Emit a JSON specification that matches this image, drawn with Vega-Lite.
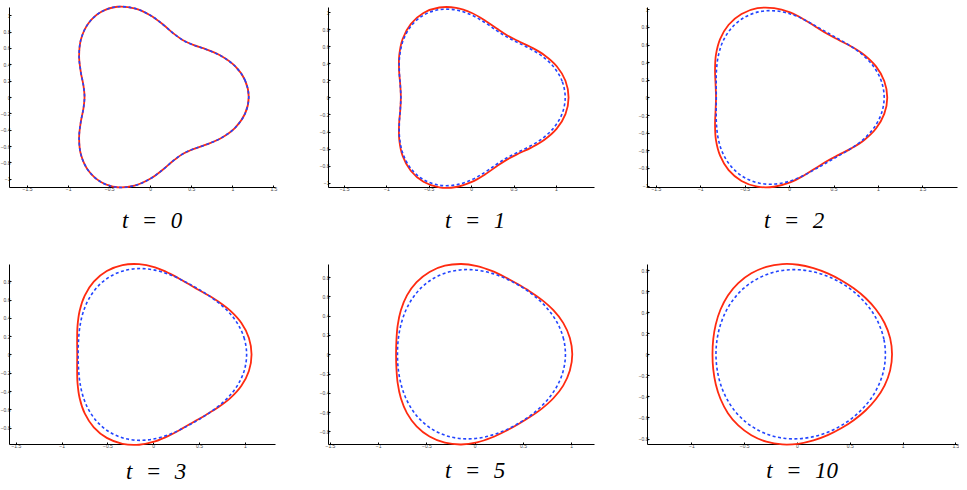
{
  "$schema": "https://vega.github.io/schema/vega-lite/v6.json",
  "padding": {"left": 0, "top": 2, "right": 0, "bottom": 0},
  "background": "white",
  "config": {
    "view": {"stroke": null},
    "axis": {"grid": false, "title": null, "domainColor": "black", "domainWidth": 1, "tickColor": "black", "tickWidth": 1, "tickSize": -2, "labelFontSize": 5, "labelColor": "#444444", "labelFont": "Liberation Sans", "labelPadding": 1, "labelOverlap": false, "labelFlush": false, "format": "~g"},
    "axisX": {"labelAngle": 0},
    "title": {"orient": "bottom", "font": "'Liberation Serif', 'Times New Roman', 'DejaVu Serif', serif", "fontSize": 23, "fontStyle": "italic", "fontWeight": "normal", "anchor": "middle", "offset": 14, "color": "black"}
  },
  "data": {"values": [
    {"c":"0","i":0,"x":1.2,"y":0},{"c":"0","i":1,"x":1.155,"y":0.204},{"c":"0","i":2,"x":1.034,"y":0.376},{"c":"0","i":3,"x":0.866,"y":0.5},{"c":"0","i":4,"x":0.689,"y":0.579},{"c":"0","i":5,"x":0.532,"y":0.633},{"c":"0","i":6,"x":0.4,"y":0.693},{"c":"0","i":7,"x":0.283,"y":0.777},{"c":"0","i":8,"x":0.156,"y":0.886},{"c":"0","i":9,"x":0,"y":1},{"c":"0","i":10,"x":-0.191,"y":1.083},{"c":"0","i":11,"x":-0.401,"y":1.103},{"c":"0","i":12,"x":-0.6,"y":1.039},{"c":"0","i":13,"x":-0.754,"y":0.899},{"c":"0","i":14,"x":-0.843,"y":0.707},{"c":"0","i":15,"x":-0.866,"y":0.5},{"c":"0","i":16,"x":-0.846,"y":0.308},{"c":"0","i":17,"x":-0.814,"y":0.144},{"c":"0","i":18,"x":-0.8,"y":0},{"c":"0","i":19,"x":-0.814,"y":-0.144},{"c":"0","i":20,"x":-0.846,"y":-0.308},{"c":"0","i":21,"x":-0.866,"y":-0.5},{"c":"0","i":22,"x":-0.843,"y":-0.707},{"c":"0","i":23,"x":-0.754,"y":-0.899},{"c":"0","i":24,"x":-0.6,"y":-1.039},{"c":"0","i":25,"x":-0.401,"y":-1.103},{"c":"0","i":26,"x":-0.191,"y":-1.083},{"c":"0","i":27,"x":0,"y":-1},{"c":"0","i":28,"x":0.156,"y":-0.886},{"c":"0","i":29,"x":0.283,"y":-0.777},{"c":"0","i":30,"x":0.4,"y":-0.693},{"c":"0","i":31,"x":0.532,"y":-0.633},{"c":"0","i":32,"x":0.689,"y":-0.579},{"c":"0","i":33,"x":0.866,"y":-0.5},{"c":"0","i":34,"x":1.034,"y":-0.376},{"c":"0","i":35,"x":1.155,"y":-0.204},

    {"c":"1r","i":0,"x":1.15,"y":0},{"c":"1r","i":1,"x":1.113,"y":0.195},{"c":"1r","i":2,"x":1.01,"y":0.365},{"c":"1r","i":3,"x":0.865,"y":0.495},{"c":"1r","i":4,"x":0.708,"y":0.588},{"c":"1r","i":5,"x":0.56,"y":0.658},{"c":"1r","i":6,"x":0.427,"y":0.726},{"c":"1r","i":7,"x":0.302,"y":0.807},{"c":"1r","i":8,"x":0.167,"y":0.9},{"c":"1r","i":9,"x":0.008,"y":0.99},{"c":"1r","i":10,"x":-0.177,"y":1.05},{"c":"1r","i":11,"x":-0.376,"y":1.054},{"c":"1r","i":12,"x":-0.563,"y":0.989},{"c":"1r","i":13,"x":-0.713,"y":0.859},{"c":"1r","i":14,"x":-0.809,"y":0.685},{"c":"1r","i":15,"x":-0.849,"y":0.495},{"c":"1r","i":16,"x":-0.851,"y":0.313},{"c":"1r","i":17,"x":-0.837,"y":0.149},{"c":"1r","i":18,"x":-0.83,"y":0},{"c":"1r","i":19,"x":-0.837,"y":-0.149},{"c":"1r","i":20,"x":-0.851,"y":-0.313},{"c":"1r","i":21,"x":-0.849,"y":-0.495},{"c":"1r","i":22,"x":-0.809,"y":-0.685},{"c":"1r","i":23,"x":-0.713,"y":-0.859},{"c":"1r","i":24,"x":-0.563,"y":-0.989},{"c":"1r","i":25,"x":-0.376,"y":-1.054},{"c":"1r","i":26,"x":-0.177,"y":-1.05},{"c":"1r","i":27,"x":0.008,"y":-0.99},{"c":"1r","i":28,"x":0.167,"y":-0.9},{"c":"1r","i":29,"x":0.302,"y":-0.807},{"c":"1r","i":30,"x":0.427,"y":-0.726},{"c":"1r","i":31,"x":0.56,"y":-0.658},{"c":"1r","i":32,"x":0.708,"y":-0.588},{"c":"1r","i":33,"x":0.865,"y":-0.495},{"c":"1r","i":34,"x":1.01,"y":-0.365},{"c":"1r","i":35,"x":1.113,"y":-0.195},

    {"c":"1b","i":0,"x":1.11,"y":0},{"c":"1b","i":1,"x":1.074,"y":0.19},{"c":"1b","i":2,"x":0.975,"y":0.356},{"c":"1b","i":3,"x":0.836,"y":0.485},{"c":"1b","i":4,"x":0.684,"y":0.577},{"c":"1b","i":5,"x":0.539,"y":0.648},{"c":"1b","i":6,"x":0.409,"y":0.715},{"c":"1b","i":7,"x":0.285,"y":0.794},{"c":"1b","i":8,"x":0.152,"y":0.884},{"c":"1b","i":9,"x":-0.004,"y":0.97},{"c":"1b","i":10,"x":-0.185,"y":1.026},{"c":"1b","i":11,"x":-0.378,"y":1.029},{"c":"1b","i":12,"x":-0.561,"y":0.965},{"c":"1b","i":13,"x":-0.708,"y":0.839},{"c":"1b","i":14,"x":-0.802,"y":0.67},{"c":"1b","i":15,"x":-0.844,"y":0.485},{"c":"1b","i":16,"x":-0.848,"y":0.307},{"c":"1b","i":17,"x":-0.837,"y":0.147},{"c":"1b","i":18,"x":-0.83,"y":0},{"c":"1b","i":19,"x":-0.837,"y":-0.147},{"c":"1b","i":20,"x":-0.848,"y":-0.307},{"c":"1b","i":21,"x":-0.844,"y":-0.485},{"c":"1b","i":22,"x":-0.802,"y":-0.67},{"c":"1b","i":23,"x":-0.708,"y":-0.839},{"c":"1b","i":24,"x":-0.561,"y":-0.965},{"c":"1b","i":25,"x":-0.378,"y":-1.029},{"c":"1b","i":26,"x":-0.185,"y":-1.026},{"c":"1b","i":27,"x":-0.004,"y":-0.97},{"c":"1b","i":28,"x":0.152,"y":-0.884},{"c":"1b","i":29,"x":0.285,"y":-0.794},{"c":"1b","i":30,"x":0.409,"y":-0.715},{"c":"1b","i":31,"x":0.539,"y":-0.648},{"c":"1b","i":32,"x":0.684,"y":-0.577},{"c":"1b","i":33,"x":0.836,"y":-0.485},{"c":"1b","i":34,"x":0.975,"y":-0.356},{"c":"1b","i":35,"x":1.074,"y":-0.19},

    {"c":"2r","i":0,"x":1.105,"y":0},{"c":"2r","i":1,"x":1.071,"y":0.187},{"c":"2r","i":2,"x":0.978,"y":0.352},{"c":"2r","i":3,"x":0.846,"y":0.482},{"c":"2r","i":4,"x":0.7,"y":0.578},{"c":"2r","i":5,"x":0.558,"y":0.652},{"c":"2r","i":6,"x":0.428,"y":0.722},{"c":"2r","i":7,"x":0.302,"y":0.8},{"c":"2r","i":8,"x":0.167,"y":0.885},{"c":"2r","i":9,"x":0.011,"y":0.964},{"c":"2r","i":10,"x":-0.168,"y":1.013},{"c":"2r","i":11,"x":-0.357,"y":1.012},{"c":"2r","i":12,"x":-0.536,"y":0.947},{"c":"2r","i":13,"x":-0.681,"y":0.825},{"c":"2r","i":14,"x":-0.777,"y":0.661},{"c":"2r","i":15,"x":-0.824,"y":0.482},{"c":"2r","i":16,"x":-0.834,"y":0.308},{"c":"2r","i":17,"x":-0.828,"y":0.148},{"c":"2r","i":18,"x":-0.823,"y":0},{"c":"2r","i":19,"x":-0.828,"y":-0.148},{"c":"2r","i":20,"x":-0.834,"y":-0.308},{"c":"2r","i":21,"x":-0.824,"y":-0.482},{"c":"2r","i":22,"x":-0.777,"y":-0.661},{"c":"2r","i":23,"x":-0.681,"y":-0.825},{"c":"2r","i":24,"x":-0.536,"y":-0.947},{"c":"2r","i":25,"x":-0.357,"y":-1.012},{"c":"2r","i":26,"x":-0.168,"y":-1.013},{"c":"2r","i":27,"x":0.011,"y":-0.964},{"c":"2r","i":28,"x":0.167,"y":-0.885},{"c":"2r","i":29,"x":0.302,"y":-0.8},{"c":"2r","i":30,"x":0.428,"y":-0.722},{"c":"2r","i":31,"x":0.558,"y":-0.652},{"c":"2r","i":32,"x":0.7,"y":-0.578},{"c":"2r","i":33,"x":0.846,"y":-0.482},{"c":"2r","i":34,"x":0.978,"y":-0.352},{"c":"2r","i":35,"x":1.071,"y":-0.187},

    {"c":"2b","i":0,"x":1.07,"y":0},{"c":"2b","i":1,"x":1.04,"y":0.18},{"c":"2b","i":2,"x":0.958,"y":0.341},{"c":"2b","i":3,"x":0.839,"y":0.473},{"c":"2b","i":4,"x":0.705,"y":0.574},{"c":"2b","i":5,"x":0.571,"y":0.655},{"c":"2b","i":6,"x":0.442,"y":0.728},{"c":"2b","i":7,"x":0.313,"y":0.803},{"c":"2b","i":8,"x":0.176,"y":0.879},{"c":"2b","i":9,"x":0.021,"y":0.945},{"c":"2b","i":10,"x":-0.152,"y":0.982},{"c":"2b","i":11,"x":-0.333,"y":0.973},{"c":"2b","i":12,"x":-0.504,"y":0.908},{"c":"2b","i":13,"x":-0.644,"y":0.793},{"c":"2b","i":14,"x":-0.743,"y":0.641},{"c":"2b","i":15,"x":-0.797,"y":0.473},{"c":"2b","i":16,"x":-0.818,"y":0.305},{"c":"2b","i":17,"x":-0.821,"y":0.148},{"c":"2b","i":18,"x":-0.82,"y":0},{"c":"2b","i":19,"x":-0.821,"y":-0.148},{"c":"2b","i":20,"x":-0.818,"y":-0.305},{"c":"2b","i":21,"x":-0.797,"y":-0.473},{"c":"2b","i":22,"x":-0.743,"y":-0.641},{"c":"2b","i":23,"x":-0.644,"y":-0.793},{"c":"2b","i":24,"x":-0.504,"y":-0.908},{"c":"2b","i":25,"x":-0.333,"y":-0.973},{"c":"2b","i":26,"x":-0.152,"y":-0.982},{"c":"2b","i":27,"x":0.021,"y":-0.945},{"c":"2b","i":28,"x":0.176,"y":-0.879},{"c":"2b","i":29,"x":0.313,"y":-0.803},{"c":"2b","i":30,"x":0.442,"y":-0.728},{"c":"2b","i":31,"x":0.571,"y":-0.655},{"c":"2b","i":32,"x":0.705,"y":-0.574},{"c":"2b","i":33,"x":0.839,"y":-0.473},{"c":"2b","i":34,"x":0.958,"y":-0.341},{"c":"2b","i":35,"x":1.04,"y":-0.18},

    {"c":"3r","i":0,"x":1.074,"y":0},{"c":"3r","i":1,"x":1.045,"y":0.181},{"c":"3r","i":2,"x":0.963,"y":0.343},{"c":"3r","i":3,"x":0.844,"y":0.476},{"c":"3r","i":4,"x":0.71,"y":0.579},{"c":"3r","i":5,"x":0.575,"y":0.662},{"c":"3r","i":6,"x":0.445,"y":0.736},{"c":"3r","i":7,"x":0.315,"y":0.812},{"c":"3r","i":8,"x":0.176,"y":0.887},{"c":"3r","i":9,"x":0.02,"y":0.952},{"c":"3r","i":10,"x":-0.154,"y":0.988},{"c":"3r","i":11,"x":-0.336,"y":0.978},{"c":"3r","i":12,"x":-0.507,"y":0.913},{"c":"3r","i":13,"x":-0.649,"y":0.797},{"c":"3r","i":14,"x":-0.748,"y":0.645},{"c":"3r","i":15,"x":-0.804,"y":0.476},{"c":"3r","i":16,"x":-0.827,"y":0.308},{"c":"3r","i":17,"x":-0.831,"y":0.15},{"c":"3r","i":18,"x":-0.83,"y":0},{"c":"3r","i":19,"x":-0.831,"y":-0.15},{"c":"3r","i":20,"x":-0.827,"y":-0.308},{"c":"3r","i":21,"x":-0.804,"y":-0.476},{"c":"3r","i":22,"x":-0.748,"y":-0.645},{"c":"3r","i":23,"x":-0.649,"y":-0.797},{"c":"3r","i":24,"x":-0.507,"y":-0.913},{"c":"3r","i":25,"x":-0.336,"y":-0.978},{"c":"3r","i":26,"x":-0.154,"y":-0.988},{"c":"3r","i":27,"x":0.02,"y":-0.952},{"c":"3r","i":28,"x":0.176,"y":-0.887},{"c":"3r","i":29,"x":0.315,"y":-0.812},{"c":"3r","i":30,"x":0.445,"y":-0.736},{"c":"3r","i":31,"x":0.575,"y":-0.662},{"c":"3r","i":32,"x":0.71,"y":-0.579},{"c":"3r","i":33,"x":0.844,"y":-0.476},{"c":"3r","i":34,"x":0.963,"y":-0.343},{"c":"3r","i":35,"x":1.045,"y":-0.181},

    {"c":"3b","i":0,"x":1.02,"y":0},{"c":"3b","i":1,"x":0.996,"y":0.17},{"c":"3b","i":2,"x":0.928,"y":0.326},{"c":"3b","i":3,"x":0.828,"y":0.46},{"c":"3b","i":4,"x":0.709,"y":0.569},{"c":"3b","i":5,"x":0.584,"y":0.659},{"c":"3b","i":6,"x":0.457,"y":0.737},{"c":"3b","i":7,"x":0.325,"y":0.808},{"c":"3b","i":8,"x":0.185,"y":0.872},{"c":"3b","i":9,"x":0.031,"y":0.92},{"c":"3b","i":10,"x":-0.135,"y":0.94},{"c":"3b","i":11,"x":-0.304,"y":0.921},{"c":"3b","i":12,"x":-0.464,"y":0.857},{"c":"3b","i":13,"x":-0.599,"y":0.751},{"c":"3b","i":14,"x":-0.7,"y":0.614},{"c":"3b","i":15,"x":-0.766,"y":0.46},{"c":"3b","i":16,"x":-0.801,"y":0.303},{"c":"3b","i":17,"x":-0.816,"y":0.149},{"c":"3b","i":18,"x":-0.82,"y":0},{"c":"3b","i":19,"x":-0.816,"y":-0.149},{"c":"3b","i":20,"x":-0.801,"y":-0.303},{"c":"3b","i":21,"x":-0.766,"y":-0.46},{"c":"3b","i":22,"x":-0.7,"y":-0.614},{"c":"3b","i":23,"x":-0.599,"y":-0.751},{"c":"3b","i":24,"x":-0.464,"y":-0.857},{"c":"3b","i":25,"x":-0.304,"y":-0.921},{"c":"3b","i":26,"x":-0.135,"y":-0.94},{"c":"3b","i":27,"x":0.031,"y":-0.92},{"c":"3b","i":28,"x":0.185,"y":-0.872},{"c":"3b","i":29,"x":0.325,"y":-0.808},{"c":"3b","i":30,"x":0.457,"y":-0.737},{"c":"3b","i":31,"x":0.584,"y":-0.659},{"c":"3b","i":32,"x":0.709,"y":-0.569},{"c":"3b","i":33,"x":0.828,"y":-0.46},{"c":"3b","i":34,"x":0.928,"y":-0.326},{"c":"3b","i":35,"x":0.996,"y":-0.17},

    {"c":"5r","i":0,"x":1.011,"y":0},{"c":"5r","i":1,"x":0.986,"y":0.169},{"c":"5r","i":2,"x":0.917,"y":0.325},{"c":"5r","i":3,"x":0.815,"y":0.456},{"c":"5r","i":4,"x":0.696,"y":0.563},{"c":"5r","i":5,"x":0.571,"y":0.651},{"c":"5r","i":6,"x":0.445,"y":0.727},{"c":"5r","i":7,"x":0.316,"y":0.798},{"c":"5r","i":8,"x":0.177,"y":0.863},{"c":"5r","i":9,"x":0.025,"y":0.913},{"c":"5r","i":10,"x":-0.14,"y":0.935},{"c":"5r","i":11,"x":-0.309,"y":0.917},{"c":"5r","i":12,"x":-0.468,"y":0.853},{"c":"5r","i":13,"x":-0.602,"y":0.747},{"c":"5r","i":14,"x":-0.702,"y":0.61},{"c":"5r","i":15,"x":-0.765,"y":0.456},{"c":"5r","i":16,"x":-0.798,"y":0.3},{"c":"5r","i":17,"x":-0.811,"y":0.147},{"c":"5r","i":18,"x":-0.815,"y":0},{"c":"5r","i":19,"x":-0.811,"y":-0.147},{"c":"5r","i":20,"x":-0.798,"y":-0.3},{"c":"5r","i":21,"x":-0.765,"y":-0.456},{"c":"5r","i":22,"x":-0.702,"y":-0.61},{"c":"5r","i":23,"x":-0.602,"y":-0.747},{"c":"5r","i":24,"x":-0.468,"y":-0.853},{"c":"5r","i":25,"x":-0.309,"y":-0.917},{"c":"5r","i":26,"x":-0.14,"y":-0.935},{"c":"5r","i":27,"x":0.025,"y":-0.913},{"c":"5r","i":28,"x":0.177,"y":-0.863},{"c":"5r","i":29,"x":0.316,"y":-0.798},{"c":"5r","i":30,"x":0.445,"y":-0.727},{"c":"5r","i":31,"x":0.571,"y":-0.651},{"c":"5r","i":32,"x":0.696,"y":-0.563},{"c":"5r","i":33,"x":0.815,"y":-0.456},{"c":"5r","i":34,"x":0.917,"y":-0.325},{"c":"5r","i":35,"x":0.986,"y":-0.169},

    {"c":"5b","i":0,"x":0.94,"y":0},{"c":"5b","i":1,"x":0.921,"y":0.157},{"c":"5b","i":2,"x":0.867,"y":0.304},{"c":"5b","i":3,"x":0.784,"y":0.435},{"c":"5b","i":4,"x":0.683,"y":0.547},{"c":"5b","i":5,"x":0.569,"y":0.641},{"c":"5b","i":6,"x":0.447,"y":0.72},{"c":"5b","i":7,"x":0.317,"y":0.786},{"c":"5b","i":8,"x":0.179,"y":0.838},{"c":"5b","i":9,"x":0.031,"y":0.87},{"c":"5b","i":10,"x":-0.123,"y":0.876},{"c":"5b","i":11,"x":-0.278,"y":0.849},{"c":"5b","i":12,"x":-0.424,"y":0.787},{"c":"5b","i":13,"x":-0.55,"y":0.692},{"c":"5b","i":14,"x":-0.65,"y":0.572},{"c":"5b","i":15,"x":-0.722,"y":0.435},{"c":"5b","i":16,"x":-0.768,"y":0.291},{"c":"5b","i":17,"x":-0.793,"y":0.145},{"c":"5b","i":18,"x":-0.8,"y":0},{"c":"5b","i":19,"x":-0.793,"y":-0.145},{"c":"5b","i":20,"x":-0.768,"y":-0.291},{"c":"5b","i":21,"x":-0.722,"y":-0.435},{"c":"5b","i":22,"x":-0.65,"y":-0.572},{"c":"5b","i":23,"x":-0.55,"y":-0.692},{"c":"5b","i":24,"x":-0.424,"y":-0.787},{"c":"5b","i":25,"x":-0.278,"y":-0.849},{"c":"5b","i":26,"x":-0.123,"y":-0.876},{"c":"5b","i":27,"x":0.031,"y":-0.87},{"c":"5b","i":28,"x":0.179,"y":-0.838},{"c":"5b","i":29,"x":0.317,"y":-0.786},{"c":"5b","i":30,"x":0.447,"y":-0.72},{"c":"5b","i":31,"x":0.569,"y":-0.641},{"c":"5b","i":32,"x":0.683,"y":-0.547},{"c":"5b","i":33,"x":0.784,"y":-0.435},{"c":"5b","i":34,"x":0.867,"y":-0.304},{"c":"5b","i":35,"x":0.921,"y":-0.157},

    {"c":"10r","i":0,"x":0.9,"y":0},{"c":"10r","i":1,"x":0.882,"y":0.153},{"c":"10r","i":2,"x":0.829,"y":0.297},{"c":"10r","i":3,"x":0.748,"y":0.425},{"c":"10r","i":4,"x":0.649,"y":0.534},{"c":"10r","i":5,"x":0.537,"y":0.626},{"c":"10r","i":6,"x":0.418,"y":0.703},{"c":"10r","i":7,"x":0.291,"y":0.768},{"c":"10r","i":8,"x":0.156,"y":0.818},{"c":"10r","i":9,"x":0.012,"y":0.85},{"c":"10r","i":10,"x":-0.139,"y":0.856},{"c":"10r","i":11,"x":-0.29,"y":0.83},{"c":"10r","i":12,"x":-0.432,"y":0.769},{"c":"10r","i":13,"x":-0.556,"y":0.676},{"c":"10r","i":14,"x":-0.654,"y":0.559},{"c":"10r","i":15,"x":-0.724,"y":0.425},{"c":"10r","i":16,"x":-0.769,"y":0.284},{"c":"10r","i":17,"x":-0.793,"y":0.142},{"c":"10r","i":18,"x":-0.8,"y":0},{"c":"10r","i":19,"x":-0.793,"y":-0.142},{"c":"10r","i":20,"x":-0.769,"y":-0.284},{"c":"10r","i":21,"x":-0.724,"y":-0.425},{"c":"10r","i":22,"x":-0.654,"y":-0.559},{"c":"10r","i":23,"x":-0.556,"y":-0.676},{"c":"10r","i":24,"x":-0.432,"y":-0.769},{"c":"10r","i":25,"x":-0.29,"y":-0.83},{"c":"10r","i":26,"x":-0.139,"y":-0.856},{"c":"10r","i":27,"x":0.012,"y":-0.85},{"c":"10r","i":28,"x":0.156,"y":-0.818},{"c":"10r","i":29,"x":0.291,"y":-0.768},{"c":"10r","i":30,"x":0.418,"y":-0.703},{"c":"10r","i":31,"x":0.537,"y":-0.626},{"c":"10r","i":32,"x":0.649,"y":-0.534},{"c":"10r","i":33,"x":0.748,"y":-0.425},{"c":"10r","i":34,"x":0.829,"y":-0.297},{"c":"10r","i":35,"x":0.882,"y":-0.153},

    {"c":"10b","i":0,"x":0.837,"y":0},{"c":"10b","i":1,"x":0.823,"y":0.142},{"c":"10b","i":2,"x":0.78,"y":0.277},{"c":"10b","i":3,"x":0.714,"y":0.401},{"c":"10b","i":4,"x":0.627,"y":0.51},{"c":"10b","i":5,"x":0.526,"y":0.604},{"c":"10b","i":6,"x":0.412,"y":0.681},{"c":"10b","i":7,"x":0.289,"y":0.741},{"c":"10b","i":8,"x":0.157,"y":0.782},{"c":"10b","i":9,"x":0.019,"y":0.802},{"c":"10b","i":10,"x":-0.122,"y":0.798},{"c":"10b","i":11,"x":-0.26,"y":0.767},{"c":"10b","i":12,"x":-0.39,"y":0.708},{"c":"10b","i":13,"x":-0.506,"y":0.625},{"c":"10b","i":14,"x":-0.602,"y":0.521},{"c":"10b","i":15,"x":-0.676,"y":0.401},{"c":"10b","i":16,"x":-0.727,"y":0.272},{"c":"10b","i":17,"x":-0.757,"y":0.137},{"c":"10b","i":18,"x":-0.767,"y":0},{"c":"10b","i":19,"x":-0.757,"y":-0.137},{"c":"10b","i":20,"x":-0.727,"y":-0.272},{"c":"10b","i":21,"x":-0.676,"y":-0.401},{"c":"10b","i":22,"x":-0.602,"y":-0.521},{"c":"10b","i":23,"x":-0.506,"y":-0.625},{"c":"10b","i":24,"x":-0.39,"y":-0.708},{"c":"10b","i":25,"x":-0.26,"y":-0.767},{"c":"10b","i":26,"x":-0.122,"y":-0.798},{"c":"10b","i":27,"x":0.019,"y":-0.802},{"c":"10b","i":28,"x":0.157,"y":-0.782},{"c":"10b","i":29,"x":0.289,"y":-0.741},{"c":"10b","i":30,"x":0.412,"y":-0.681},{"c":"10b","i":31,"x":0.526,"y":-0.604},{"c":"10b","i":32,"x":0.627,"y":-0.51},{"c":"10b","i":33,"x":0.714,"y":-0.401},{"c":"10b","i":34,"x":0.78,"y":-0.277},{"c":"10b","i":35,"x":0.823,"y":-0.142}
  ]},
  "columns": 3,
  "spacing": {"row": 77, "column": 53},
  "bounds": "flush",
  "concat": [
    {
      "width": 266, "height": 180,
      "title": {"text": "t\u2002\u200a=\u2002\u200a0", "dx": 10, "offset": 19},
      "encoding": {
        "x": {"field": "x", "type": "quantitative", "scale": {"domain": [-1.72, 1.52], "zero": false, "nice": false}, "axis": {"values": [-1.5, -1, -0.5, 0, 0.5, 1, 1.5]}},
        "y": {"field": "y", "type": "quantitative", "scale": {"domain": [-1.1, 1.1], "zero": false, "nice": false}, "axis": {"values": [-1, -0.8, -0.6, -0.4, -0.2, 0, 0.2, 0.4, 0.6, 0.8, 1]}},
        "order": {"field": "i", "type": "quantitative"}
      },
      "layer": [
        {"transform": [{"filter": "datum.c == '0'"}], "mark": {"type": "line", "interpolate": "cardinal-closed", "color": "#ff2a10", "strokeWidth": 1.8, "clip": false}},
        {"transform": [{"filter": "datum.c == '0'"}], "mark": {"type": "line", "interpolate": "cardinal-closed", "color": "#2244ff", "strokeWidth": 1.6, "strokeDash": [3, 2.5], "clip": false}}
      ]
    },
    {
      "width": 266, "height": 180,
      "title": {"text": "t\u2002\u200a=\u2002\u200a1", "dx": 14, "offset": 19},
      "encoding": {
        "x": {"field": "x", "type": "quantitative", "scale": {"domain": [-1.69, 1.45], "zero": false, "nice": false}, "axis": {"values": [-1.5, -1, -0.5, 0, 0.5, 1]}},
        "y": {"field": "y", "type": "quantitative", "scale": {"domain": [-1.05, 1.06], "zero": false, "nice": false}, "axis": {"values": [-1, -0.8, -0.6, -0.4, -0.2, 0, 0.2, 0.4, 0.6, 0.8, 1]}},
        "order": {"field": "i", "type": "quantitative"}
      },
      "layer": [
        {"transform": [{"filter": "datum.c == '1r'"}], "mark": {"type": "line", "interpolate": "cardinal-closed", "color": "#ff2a10", "strokeWidth": 1.8, "clip": false}},
        {"transform": [{"filter": "datum.c == '1b'"}], "mark": {"type": "line", "interpolate": "cardinal-closed", "color": "#2244ff", "strokeWidth": 1.6, "strokeDash": [3, 2.5], "clip": false}}
      ]
    },
    {
      "width": 310, "height": 180,
      "title": {"text": "t\u2002\u200a=\u2002\u200a2", "dx": -8, "offset": 19},
      "encoding": {
        "x": {"field": "x", "type": "quantitative", "scale": {"domain": [-1.6, 1.89], "zero": false, "nice": false}, "axis": {"values": [-1.5, -1, -0.5, 0, 0.5, 1, 1.5]}},
        "y": {"field": "y", "type": "quantitative", "scale": {"domain": [-1.016, 1.026], "zero": false, "nice": false}, "axis": {"values": [-1, -0.8, -0.6, -0.4, -0.2, 0, 0.2, 0.4, 0.6, 0.8, 1]}},
        "order": {"field": "i", "type": "quantitative"}
      },
      "layer": [
        {"transform": [{"filter": "datum.c == '2r'"}], "mark": {"type": "line", "interpolate": "cardinal-closed", "color": "#ff2a10", "strokeWidth": 1.8, "clip": false}},
        {"transform": [{"filter": "datum.c == '2b'"}], "mark": {"type": "line", "interpolate": "cardinal-closed", "color": "#2244ff", "strokeWidth": 1.6, "strokeDash": [3, 2.5], "clip": false}}
      ]
    },
    {
      "width": 266, "height": 180,
      "title": {"text": "t\u2002\u200a=\u2002\u200a3", "dx": 14, "offset": 12},
      "encoding": {
        "x": {"field": "x", "type": "quantitative", "scale": {"domain": [-1.575, 1.33], "zero": false, "nice": false}, "axis": {"values": [-1.5, -1, -0.5, 0, 0.5, 1]}},
        "y": {"field": "y", "type": "quantitative", "scale": {"domain": [-0.98, 0.99], "zero": false, "nice": false}, "axis": {"values": [-0.8, -0.6, -0.4, -0.2, 0, 0.2, 0.4, 0.6, 0.8]}},
        "order": {"field": "i", "type": "quantitative"}
      },
      "layer": [
        {"transform": [{"filter": "datum.c == '3r'"}], "mark": {"type": "line", "interpolate": "cardinal-closed", "color": "#ff2a10", "strokeWidth": 1.8, "clip": false}},
        {"transform": [{"filter": "datum.c == '3b'"}], "mark": {"type": "line", "interpolate": "cardinal-closed", "color": "#2244ff", "strokeWidth": 1.6, "strokeDash": [3, 2.5], "clip": false}}
      ]
    },
    {
      "width": 266, "height": 180,
      "title": {"text": "t\u2002\u200a=\u2002\u200a5", "dx": 14, "offset": 12},
      "encoding": {
        "x": {"field": "x", "type": "quantitative", "scale": {"domain": [-1.52, 1.236], "zero": false, "nice": false}, "axis": {"values": [-1.5, -1, -0.5, 0, 0.5, 1]}},
        "y": {"field": "y", "type": "quantitative", "scale": {"domain": [-0.93, 0.935], "zero": false, "nice": false}, "axis": {"values": [-0.8, -0.6, -0.4, -0.2, 0, 0.2, 0.4, 0.6, 0.8]}},
        "order": {"field": "i", "type": "quantitative"}
      },
      "layer": [
        {"transform": [{"filter": "datum.c == '5r'"}], "mark": {"type": "line", "interpolate": "cardinal-closed", "color": "#ff2a10", "strokeWidth": 1.8, "clip": false}},
        {"transform": [{"filter": "datum.c == '5b'"}], "mark": {"type": "line", "interpolate": "cardinal-closed", "color": "#2244ff", "strokeWidth": 1.6, "strokeDash": [3, 2.5], "clip": false}}
      ]
    },
    {
      "width": 310, "height": 180,
      "title": {"text": "t\u2002\u200a=\u2002\u200a10", "dx": 0, "offset": 12},
      "encoding": {
        "x": {"field": "x", "type": "quantitative", "scale": {"domain": [-1.42, 1.515], "zero": false, "nice": false}, "axis": {"values": [-1, -0.5, 0, 0.5, 1, 1.5]}},
        "y": {"field": "y", "type": "quantitative", "scale": {"domain": [-0.852, 0.857], "zero": false, "nice": false}, "axis": {"values": [-0.8, -0.6, -0.4, -0.2, 0, 0.2, 0.4, 0.6, 0.8]}},
        "order": {"field": "i", "type": "quantitative"}
      },
      "layer": [
        {"transform": [{"filter": "datum.c == '10r'"}], "mark": {"type": "line", "interpolate": "cardinal-closed", "color": "#ff2a10", "strokeWidth": 1.8, "clip": false}},
        {"transform": [{"filter": "datum.c == '10b'"}], "mark": {"type": "line", "interpolate": "cardinal-closed", "color": "#2244ff", "strokeWidth": 1.6, "strokeDash": [3, 2.5], "clip": false}}
      ]
    }
  ]
}
